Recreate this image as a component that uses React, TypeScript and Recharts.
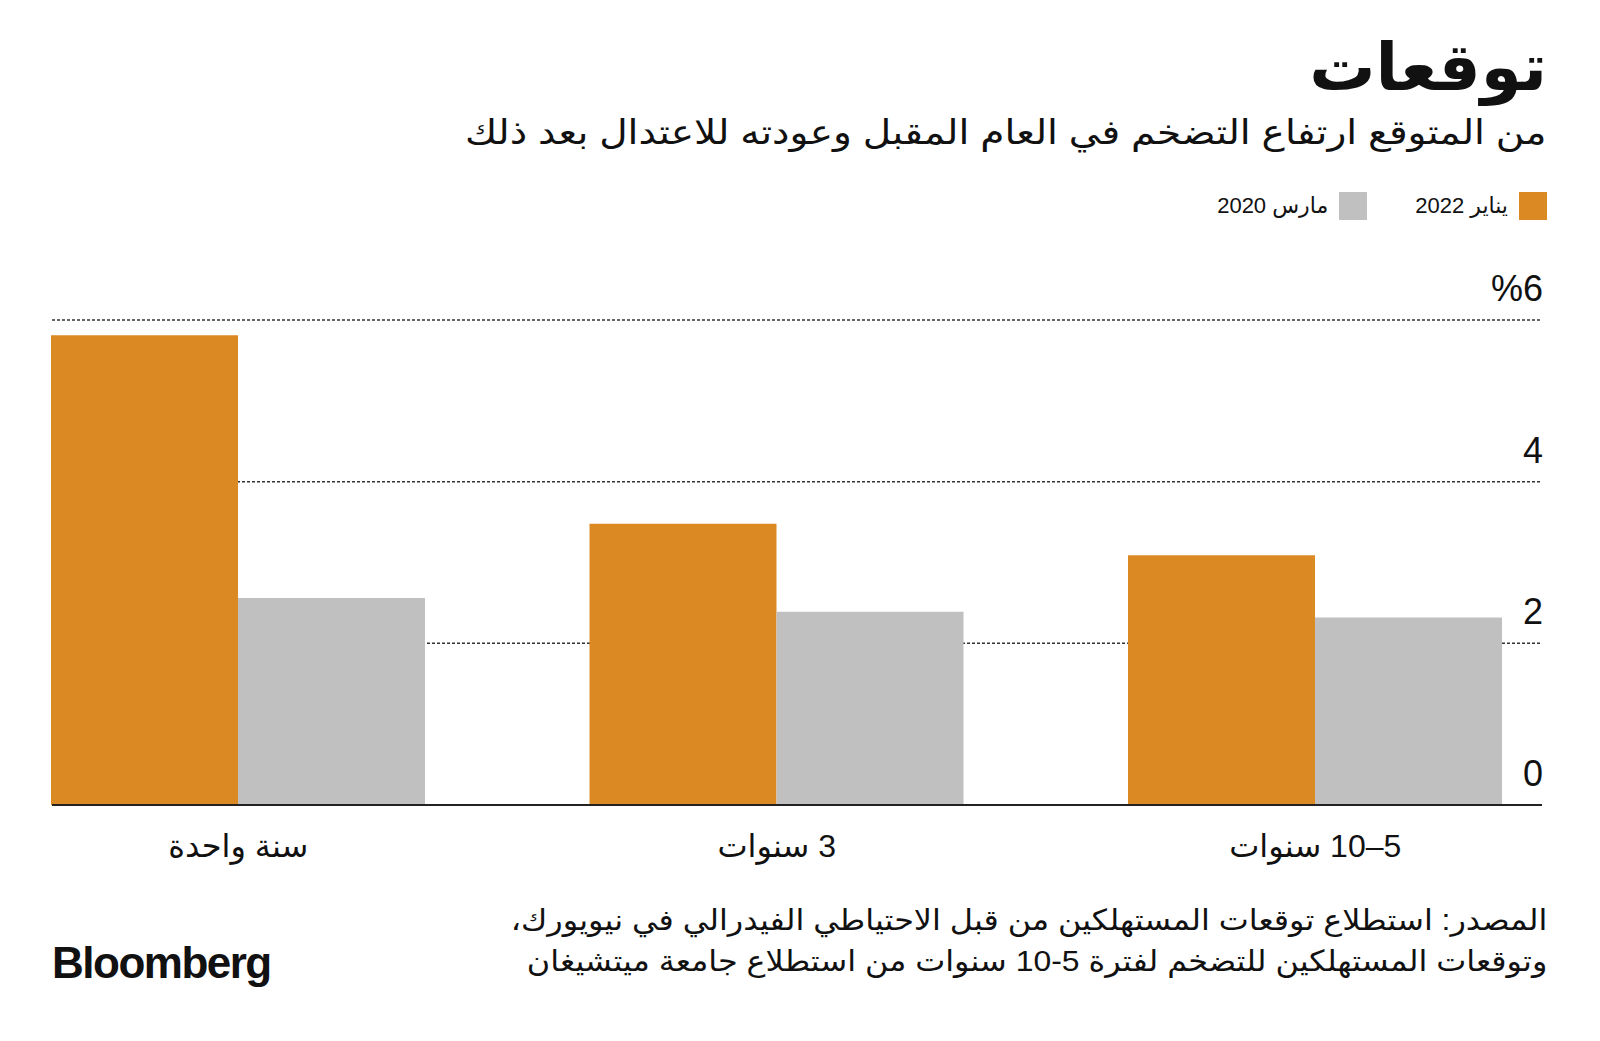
import React from "react";
import { BarChart, Bar, XAxis, YAxis, CartesianGrid } from "recharts";

const categories = ["سنة واحدة", "3 سنوات", "5–10 سنوات"];
const jan2022 = [5.81, 3.48, 3.09];
const mar2020 = [2.56, 2.39, 2.32];
const yTicks = [0, 2, 4, 6];
const yTickLabels = ["0", "2", "4", "%6"];
const seriesNames = ["يناير 2022", "مارس 2020"];

const ORANGE = "#DB8A23";
const GRAY = "#C0C0C0";
const FONT = "'Liberation Sans', 'DejaVu Sans', sans-serif";

const data = categories.map((c, i) => ({ category: c, jan: jan2022[i], mar: mar2020[i] }));

const YTick = (props: any) => {
  const { y, payload } = props;
  const idx = yTicks.indexOf(payload.value);
  return (
    <text x={1543} y={y - 19} textAnchor="end" fontSize={36} fill="#111" fontFamily={FONT}>
      {yTickLabels[idx] ?? String(payload.value)}
    </text>
  );
};

const XTick = (props: any) => {
  const { x, payload } = props;
  return (
    <text x={x} y={857} textAnchor="middle" fontSize={32} fill="#111" fontFamily={FONT} style={{ direction: "rtl", unicodeBidi: "plaintext" } as any}>
      {payload.value}
    </text>
  );
};

export default function App() {
  return (
    <div style={{ position: "absolute", left: 0, top: 0, width: 1600, height: 1041, background: "#fff", fontFamily: FONT, color: "#111", overflow: "hidden" }}>
      <div dir="rtl" style={{ position: "absolute", right: 53, top: 34, fontSize: 66, fontWeight: 700, lineHeight: 1, whiteSpace: "nowrap" }}>
        توقعات
      </div>
      <div dir="rtl" style={{ position: "absolute", right: 53, top: 112, fontSize: 34, lineHeight: 1.2, whiteSpace: "nowrap", transform: "scaleX(1.15)", transformOrigin: "right center" }}>
        من المتوقع ارتفاع التضخم في العام المقبل وعودته للاعتدال بعد ذلك
      </div>
      <div dir="rtl" style={{ position: "absolute", right: 53, top: 192, height: 28, display: "flex", alignItems: "center", fontSize: 22, whiteSpace: "nowrap" }}>
        <span style={{ width: 28, height: 28, background: ORANGE, display: "inline-block" }} />
        <span style={{ marginRight: 11 }}>{seriesNames[0]}</span>
        <span style={{ width: 28, height: 28, background: GRAY, display: "inline-block", marginRight: 48 }} />
        <span style={{ marginRight: 11 }}>{seriesNames[1]}</span>
      </div>
      <div style={{ position: "absolute", left: 0, top: 0 }}>
        <BarChart width={1600} height={1041} data={data} margin={{ top: 320, right: 57, bottom: 176, left: 52 }} barGap={0} barSize={187}>
          <CartesianGrid horizontal vertical={false} stroke="#333" strokeDasharray="3 2" strokeWidth={1.5} />
          <XAxis
            dataKey="category"
            height={60}
            padding={{ left: -83, right: -42.5 }}
            axisLine={{ stroke: "#222", strokeWidth: 2 }}
            tickLine={false}
            tick={<XTick />}
            interval={0}
          />
          <YAxis orientation="right" width={1} domain={[0, 6]} ticks={yTicks} axisLine={false} tickLine={false} tick={<YTick />} />
          <Bar dataKey="jan" fill={ORANGE} isAnimationActive={false} />
          <Bar dataKey="mar" fill={GRAY} isAnimationActive={false} />
        </BarChart>
      </div>
      <div dir="rtl" style={{ position: "absolute", right: 53, top: 900, fontSize: 29, lineHeight: "41px", whiteSpace: "nowrap", transform: "scaleX(1.1)", transformOrigin: "right center" }}>
        المصدر: استطلاع توقعات المستهلكين من قبل الاحتياطي الفيدرالي في نيويورك،
        <br />
        وتوقعات المستهلكين للتضخم لفترة 5-10 سنوات من استطلاع جامعة ميتشيغان
      </div>
      <div style={{ position: "absolute", left: 52, top: 941, fontSize: 44, fontWeight: 700, letterSpacing: -1.5, lineHeight: 1 }}>
        Bloomberg
      </div>
    </div>
  );
}
